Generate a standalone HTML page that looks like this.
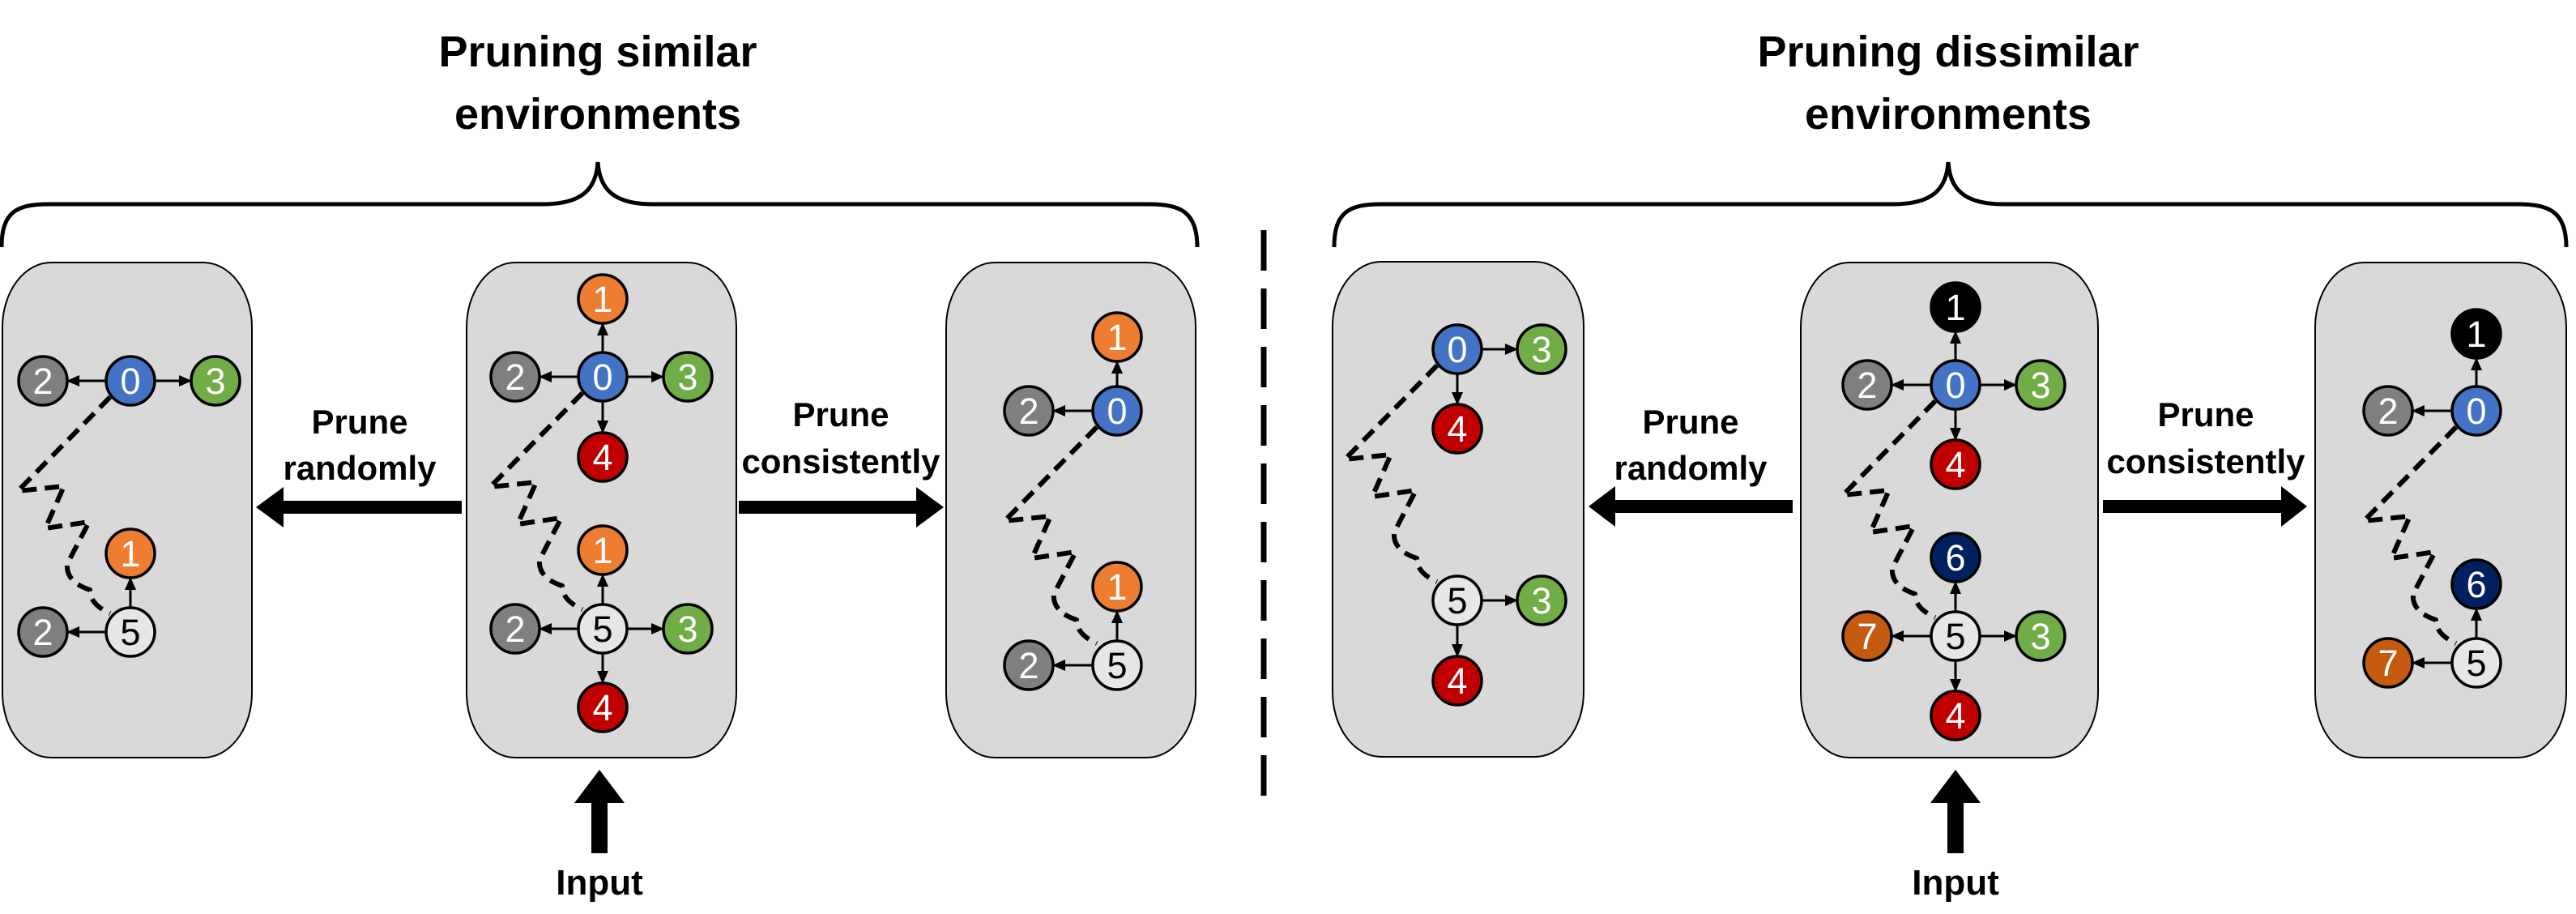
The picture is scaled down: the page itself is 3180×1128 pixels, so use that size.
<!DOCTYPE html>
<html><head><meta charset="utf-8"><style>
html,body{margin:0;padding:0;background:#fff;}
svg{display:block;}
.t{font-family:"Liberation Sans",sans-serif;font-weight:bold;fill:#000;text-anchor:middle;}
.n{font-family:"Liberation Sans",sans-serif;font-size:45px;fill:#fff;text-anchor:middle;}
.nd{fill:#000;}
circle{stroke:#000;stroke-width:3.5;}
.e{stroke:#000;stroke-width:3;fill:none;marker-end:url(#ah);}
.w{stroke:#000;stroke-width:6;fill:none;stroke-dasharray:18 10;stroke-linejoin:round;}
</style></head><body>
<svg width="3180" height="1128" viewBox="0 0 3180 1128" xmlns="http://www.w3.org/2000/svg">
<defs>
<marker id="ah" markerUnits="userSpaceOnUse" markerWidth="16" markerHeight="16" refX="15" refY="8" orient="auto"><path d="M0,1 L16,8 L0,15 Z" fill="#000"/></marker>
<path id="wig" d="M-25,20 L-139,136 L-82,130 L-105,182 L-51,174 L-78,226 Q-80,248 -50,258 Q-50,276 -25,287"/>
</defs>

<text class="t" x="738" y="82" font-size="54">Pruning similar</text>
<text class="t" x="738" y="159" font-size="54">environments</text>
<text class="t" x="2405" y="82" font-size="54">Pruning dissimilar</text>
<text class="t" x="2405" y="159" font-size="54">environments</text>

<path d="M2,305 C2,262 20,252 60,252 L670,252 C720,252 736,232 738,200 C740,232 756,252 806,252 L1418,252 C1458,252 1478,262 1478,305" fill="none" stroke="#000" stroke-width="5"/>
<path d="M1647,305 C1647,262 1665,252 1705,252 L2337,252 C2387,252 2403,232 2405,200 C2407,232 2423,252 2473,252 L3108,252 C3148,252 3168,262 3168,305" fill="none" stroke="#000" stroke-width="5"/>

<line x1="1560" y1="284" x2="1560" y2="994" stroke="#000" stroke-width="7" stroke-dasharray="50 22"/>

<g fill="#D9D9D9" stroke="#000" stroke-width="2">
<rect x="3" y="324" width="308" height="611" rx="60" ry="80"/>
<rect x="576" y="324" width="333" height="611" rx="60" ry="80"/>
<rect x="1168" y="324" width="308" height="611" rx="60" ry="80"/>
<rect x="1645" y="323" width="310" height="611" rx="60" ry="80"/>
<rect x="2223" y="324" width="367" height="611" rx="60" ry="80"/>
<rect x="2858" y="324" width="310" height="611" rx="60" ry="80"/>
</g>

<g fill="#000">
<polygon points="316,626 350,601 350,618 570,618 570,634 350,634 350,651"/>
<polygon points="912,618 1131,618 1131,601 1165,626 1131,651 1131,634 912,634"/>
<polygon points="1961,625 1994,600 1994,617 2213,617 2213,633 1994,633 1994,650"/>
<polygon points="2596,617 2816,617 2816,600 2848,625 2816,650 2816,633 2596,633"/>
<polygon points="740,950 771,991 750,991 750,1053 730,1053 730,991 709,991"/>
<polygon points="2414,950 2445,991 2424,991 2424,1053 2404,1053 2404,991 2383,991"/>
</g>
<text class="t" x="740" y="1104" font-size="44">Input</text>
<text class="t" x="2414" y="1104" font-size="44">Input</text>

<text class="t" x="444" y="535" font-size="42">Prune</text>
<text class="t" x="444" y="592" font-size="42">randomly</text>
<text class="t" x="1038" y="526" font-size="42">Prune</text>
<text class="t" x="1038" y="584" font-size="42">consistently</text>
<text class="t" x="2087" y="535" font-size="42">Prune</text>
<text class="t" x="2087" y="592" font-size="42">randomly</text>
<text class="t" x="2723" y="526" font-size="42">Prune</text>
<text class="t" x="2723" y="584" font-size="42">consistently</text>

<use href="#wig" class="w" x="161" y="470"/>
<use href="#wig" class="w" x="744" y="465"/>
<use href="#wig" class="w" x="1379" y="507"/>
<use href="#wig" class="w" x="1799" y="431"/>
<use href="#wig" class="w" x="2414" y="475"/>
<use href="#wig" class="w" x="3057" y="507"/>

<line class="e" x1="131" y1="470" x2="83" y2="470"/>
<line class="e" x1="191" y1="470" x2="236" y2="470"/>
<line class="e" x1="161" y1="750" x2="161" y2="713"/>
<line class="e" x1="131" y1="780" x2="83" y2="780"/>
<line class="e" x1="744" y1="435" x2="744" y2="399"/>
<line class="e" x1="744" y1="495" x2="744" y2="534"/>
<line class="e" x1="714" y1="465" x2="666" y2="465"/>
<line class="e" x1="774" y1="465" x2="819" y2="465"/>
<line class="e" x1="744" y1="746" x2="744" y2="709"/>
<line class="e" x1="744" y1="806" x2="744" y2="843"/>
<line class="e" x1="714" y1="776" x2="666" y2="776"/>
<line class="e" x1="774" y1="776" x2="819" y2="776"/>
<line class="e" x1="1379" y1="477" x2="1379" y2="446"/>
<line class="e" x1="1349" y1="507" x2="1300" y2="507"/>
<line class="e" x1="1379" y1="791" x2="1379" y2="754"/>
<line class="e" x1="1349" y1="821" x2="1300" y2="821"/>
<line class="e" x1="1829" y1="431" x2="1873" y2="431"/>
<line class="e" x1="1799" y1="461" x2="1799" y2="499"/>
<line class="e" x1="1829" y1="741" x2="1873" y2="741"/>
<line class="e" x1="1799" y1="771" x2="1799" y2="810"/>
<line class="e" x1="2414" y1="445" x2="2414" y2="409"/>
<line class="e" x1="2414" y1="505" x2="2414" y2="543"/>
<line class="e" x1="2384" y1="475" x2="2335" y2="475"/>
<line class="e" x1="2444" y1="475" x2="2489" y2="475"/>
<line class="e" x1="2414" y1="755" x2="2414" y2="718"/>
<line class="e" x1="2414" y1="815" x2="2414" y2="853"/>
<line class="e" x1="2384" y1="785" x2="2335" y2="785"/>
<line class="e" x1="2444" y1="785" x2="2489" y2="785"/>
<line class="e" x1="3057" y1="477" x2="3057" y2="442"/>
<line class="e" x1="3027" y1="507" x2="2978" y2="507"/>
<line class="e" x1="3057" y1="788" x2="3057" y2="751"/>
<line class="e" x1="3027" y1="818" x2="2978" y2="818"/>

<g>
<circle cx="161" cy="470" r="30" fill="#4472C4"/><text class="n" x="161" y="486">0</text>
<circle cx="53" cy="470" r="30" fill="#7F7F7F"/><text class="n" x="53" y="486">2</text>
<circle cx="266" cy="470" r="30" fill="#70AD47"/><text class="n" x="266" y="486">3</text>
<circle cx="161" cy="683" r="30" fill="#ED7D31"/><text class="n" x="161" y="699">1</text>
<circle cx="161" cy="780" r="30" fill="#E7E6E6"/><text class="n nd" x="161" y="796">5</text>
<circle cx="53" cy="780" r="30" fill="#7F7F7F"/><text class="n" x="53" y="796">2</text>
<circle cx="744" cy="369" r="30" fill="#ED7D31"/><text class="n" x="744" y="385">1</text>
<circle cx="744" cy="465" r="30" fill="#4472C4"/><text class="n" x="744" y="481">0</text>
<circle cx="744" cy="564" r="30" fill="#C00000"/><text class="n" x="744" y="580">4</text>
<circle cx="636" cy="465" r="30" fill="#7F7F7F"/><text class="n" x="636" y="481">2</text>
<circle cx="849" cy="465" r="30" fill="#70AD47"/><text class="n" x="849" y="481">3</text>
<circle cx="744" cy="679" r="30" fill="#ED7D31"/><text class="n" x="744" y="695">1</text>
<circle cx="744" cy="776" r="30" fill="#E7E6E6"/><text class="n nd" x="744" y="792">5</text>
<circle cx="744" cy="873" r="30" fill="#C00000"/><text class="n" x="744" y="889">4</text>
<circle cx="636" cy="776" r="30" fill="#7F7F7F"/><text class="n" x="636" y="792">2</text>
<circle cx="849" cy="776" r="30" fill="#70AD47"/><text class="n" x="849" y="792">3</text>
<circle cx="1379" cy="416" r="30" fill="#ED7D31"/><text class="n" x="1379" y="432">1</text>
<circle cx="1379" cy="507" r="30" fill="#4472C4"/><text class="n" x="1379" y="523">0</text>
<circle cx="1270" cy="507" r="30" fill="#7F7F7F"/><text class="n" x="1270" y="523">2</text>
<circle cx="1379" cy="724" r="30" fill="#ED7D31"/><text class="n" x="1379" y="740">1</text>
<circle cx="1379" cy="821" r="30" fill="#E7E6E6"/><text class="n nd" x="1379" y="837">5</text>
<circle cx="1270" cy="821" r="30" fill="#7F7F7F"/><text class="n" x="1270" y="837">2</text>
<circle cx="1799" cy="431" r="30" fill="#4472C4"/><text class="n" x="1799" y="447">0</text>
<circle cx="1903" cy="431" r="30" fill="#70AD47"/><text class="n" x="1903" y="447">3</text>
<circle cx="1799" cy="529" r="30" fill="#C00000"/><text class="n" x="1799" y="545">4</text>
<circle cx="1799" cy="741" r="30" fill="#E7E6E6"/><text class="n nd" x="1799" y="757">5</text>
<circle cx="1903" cy="741" r="30" fill="#70AD47"/><text class="n" x="1903" y="757">3</text>
<circle cx="1799" cy="840" r="30" fill="#C00000"/><text class="n" x="1799" y="856">4</text>
<circle cx="2414" cy="379" r="30" fill="#000"/><text class="n" x="2414" y="395">1</text>
<circle cx="2414" cy="475" r="30" fill="#4472C4"/><text class="n" x="2414" y="491">0</text>
<circle cx="2305" cy="475" r="30" fill="#7F7F7F"/><text class="n" x="2305" y="491">2</text>
<circle cx="2519" cy="475" r="30" fill="#70AD47"/><text class="n" x="2519" y="491">3</text>
<circle cx="2414" cy="573" r="30" fill="#C00000"/><text class="n" x="2414" y="589">4</text>
<circle cx="2414" cy="688" r="30" fill="#002060"/><text class="n" x="2414" y="704">6</text>
<circle cx="2414" cy="785" r="30" fill="#E7E6E6"/><text class="n nd" x="2414" y="801">5</text>
<circle cx="2305" cy="785" r="30" fill="#C55A11"/><text class="n" x="2305" y="801">7</text>
<circle cx="2519" cy="785" r="30" fill="#70AD47"/><text class="n" x="2519" y="801">3</text>
<circle cx="2414" cy="883" r="30" fill="#C00000"/><text class="n" x="2414" y="899">4</text>
<circle cx="3057" cy="412" r="30" fill="#000"/><text class="n" x="3057" y="428">1</text>
<circle cx="3057" cy="507" r="30" fill="#4472C4"/><text class="n" x="3057" y="523">0</text>
<circle cx="2948" cy="507" r="30" fill="#7F7F7F"/><text class="n" x="2948" y="523">2</text>
<circle cx="3057" cy="721" r="30" fill="#002060"/><text class="n" x="3057" y="737">6</text>
<circle cx="3057" cy="818" r="30" fill="#E7E6E6"/><text class="n nd" x="3057" y="834">5</text>
<circle cx="2948" cy="818" r="30" fill="#C55A11"/><text class="n" x="2948" y="834">7</text>
</g>
</svg>
</body></html>
